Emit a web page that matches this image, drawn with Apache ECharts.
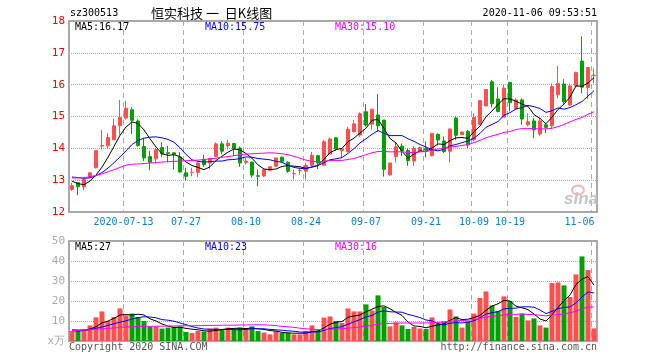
<!DOCTYPE html>
<html><head><meta charset="utf-8">
<script src="https://cdn.jsdelivr.net/npm/echarts@6.0.0/dist/echarts.min.js"></script>
<style>html,body{margin:0;padding:0;background:#fff}#c{width:660px;height:360px}</style>
</head><body><div id="c"></div>
<script>
const dates = ['2020-06-30','2020-07-01','2020-07-02','2020-07-03','2020-07-06','2020-07-07','2020-07-08','2020-07-09','2020-07-10','2020-07-13',
'2020-07-14','2020-07-15','2020-07-16','2020-07-17','2020-07-20','2020-07-21','2020-07-22','2020-07-23','2020-07-24','2020-07-27',
'2020-07-28','2020-07-29','2020-07-30','2020-07-31','2020-08-03','2020-08-04','2020-08-05','2020-08-06','2020-08-07','2020-08-10',
'2020-08-11','2020-08-12','2020-08-13','2020-08-14','2020-08-17','2020-08-18','2020-08-19','2020-08-20','2020-08-21','2020-08-24',
'2020-08-25','2020-08-26','2020-08-27','2020-08-28','2020-08-31','2020-09-01','2020-09-02','2020-09-03','2020-09-04','2020-09-07',
'2020-09-08','2020-09-09','2020-09-10','2020-09-11','2020-09-14','2020-09-15','2020-09-16','2020-09-17','2020-09-18','2020-09-21',
'2020-09-22','2020-09-23','2020-09-24','2020-09-25','2020-09-28','2020-09-29','2020-09-30','2020-10-09','2020-10-12','2020-10-13',
'2020-10-14','2020-10-15','2020-10-16','2020-10-19','2020-10-20','2020-10-21','2020-10-22','2020-10-23','2020-10-26','2020-10-27',
'2020-10-28','2020-10-29','2020-10-30','2020-11-02','2020-11-03','2020-11-04','2020-11-05','2020-11-06'];

const labelDates = ['2020-07-13','2020-07-27','2020-08-10','2020-08-24','2020-09-07','2020-09-21','2020-10-09','2020-10-19','2020-11-06'];

const openP = [12.71,12.92,12.79,13.10,13.39,14.07,14.08,14.27,14.71,14.95,
15.21,14.86,14.06,13.74,13.67,14.03,13.86,13.86,13.73,13.23,
13.24,13.25,13.65,13.54,13.75,14.14,14.08,14.15,14.01,13.56,
13.57,13.14,13.13,13.31,13.44,13.72,13.56,13.20,13.30,13.28,
13.47,13.77,13.47,13.82,14.33,13.93,13.90,14.52,14.42,15.15,
14.76,15.05,14.89,13.17,13.74,14.07,13.93,13.60,13.92,14.00,
13.77,14.44,14.23,13.91,14.95,14.43,14.53,14.27,14.76,15.33,
16.09,15.55,14.98,16.07,15.24,15.52,14.74,14.86,14.45,14.74,
14.71,15.68,16.02,15.36,15.96,16.74,15.91,16.29];

const closeP = [12.83,12.79,13.02,13.23,13.93,14.09,14.34,14.71,14.97,15.26,
14.88,14.09,13.70,13.56,13.96,13.83,13.84,13.81,13.26,13.12,
13.25,13.54,13.49,13.68,14.14,13.91,14.16,13.99,13.54,13.60,
13.16,13.12,13.33,13.42,13.70,13.59,13.28,13.21,13.31,13.47,
13.78,13.54,14.21,14.29,13.98,13.98,14.60,14.77,15.09,14.73,
15.23,14.71,13.34,13.54,14.05,13.92,13.61,14.00,14.03,13.95,
14.47,14.26,13.90,14.61,14.41,14.51,14.11,14.97,15.50,15.85,
15.40,15.16,15.89,15.44,15.52,14.92,14.84,14.58,14.86,14.66,
15.94,16.04,15.47,15.96,16.38,15.92,16.54,16.30];

const lowP = [12.66,12.53,12.68,13.08,13.37,13.96,14.01,14.27,14.43,14.90,
14.45,14.05,13.60,13.31,13.52,13.72,13.56,13.33,13.23,13.00,
13.12,13.10,13.42,13.35,13.72,13.81,13.96,13.77,13.42,13.49,
13.08,12.81,13.10,13.29,13.42,13.57,13.23,13.02,13.18,13.02,
13.44,13.35,13.44,13.82,13.92,13.69,13.87,14.50,14.36,14.68,
14.59,14.52,13.11,13.14,13.56,13.75,13.45,13.45,13.90,13.72,
13.74,14.09,13.85,13.56,14.27,14.42,14.01,14.22,14.74,15.33,
15.29,15.13,14.98,15.16,15.21,14.74,14.69,14.32,14.40,14.48,
14.60,15.57,15.40,15.36,15.94,15.73,15.55,16.04];

const highP = [12.92,12.92,13.02,13.25,13.93,14.58,14.47,14.92,15.52,15.49,
15.29,14.91,14.32,13.93,14.01,14.19,14.08,13.86,13.88,13.39,
13.39,13.56,13.80,13.70,14.19,14.22,14.27,14.17,14.06,13.70,
13.57,13.33,13.35,13.44,13.70,13.75,13.59,13.33,13.39,13.54,
13.89,13.80,14.26,14.34,14.35,14.00,14.67,14.89,15.13,15.39,
15.23,15.70,14.89,13.54,14.20,14.15,14.00,14.07,14.05,14.22,
14.47,14.47,14.37,14.61,15.00,14.53,14.58,15.10,15.52,15.86,
16.15,15.92,15.99,16.09,15.57,15.57,15.10,14.95,14.95,14.79,
16.04,16.59,16.17,16.04,16.41,17.52,16.54,16.51];

const ma5 = [12.97,12.89,12.86,12.97,13.16,13.41,13.72,14.06,14.41,14.67,
14.83,14.78,14.58,14.30,14.04,13.83,13.78,13.80,13.74,13.57,
13.46,13.40,13.33,13.42,13.62,13.75,13.88,13.98,13.95,13.84,
13.69,13.48,13.35,13.33,13.35,13.43,13.46,13.44,13.42,13.37,
13.41,13.46,13.66,13.86,13.96,14.00,14.21,14.32,14.48,14.63,
14.88,14.91,14.62,14.31,14.17,13.91,13.69,13.82,13.92,13.90,
14.01,14.14,14.12,14.24,14.33,14.34,14.31,14.52,14.70,14.99,
15.17,15.38,15.56,15.55,15.48,15.39,15.32,15.06,14.94,14.77,
14.98,15.22,15.39,15.61,15.96,15.95,16.05,16.22];

const ma10 = [13.10,13.08,13.06,13.07,13.14,13.24,13.38,13.55,13.73,13.92,
14.12,14.25,14.32,14.35,14.36,14.33,14.28,14.19,14.02,13.81,
13.64,13.59,13.57,13.58,13.60,13.60,13.64,13.65,13.68,13.73,
13.72,13.68,13.66,13.64,13.59,13.56,13.47,13.40,13.37,13.36,
13.42,13.46,13.55,13.64,13.67,13.71,13.84,13.99,14.17,14.30,
14.44,14.56,14.47,14.40,14.40,14.40,14.30,14.22,14.12,14.04,
13.96,13.92,13.97,14.08,14.12,14.18,14.23,14.32,14.47,14.66,
14.75,14.84,15.04,15.12,15.24,15.28,15.35,15.31,15.25,15.13,
15.18,15.27,15.23,15.28,15.37,15.47,15.64,15.81];

const ma30 = [13.07,13.07,13.08,13.11,13.15,13.20,13.26,13.33,13.40,13.47,
13.50,13.51,13.52,13.54,13.55,13.57,13.58,13.59,13.60,13.61,
13.62,13.63,13.65,13.67,13.69,13.72,13.74,13.77,13.80,13.82,
13.83,13.84,13.85,13.86,13.85,13.83,13.80,13.75,13.69,13.63,
13.59,13.58,13.59,13.62,13.62,13.62,13.65,13.68,13.74,13.80,
13.86,13.90,13.90,13.89,13.89,13.89,13.87,13.87,13.89,13.90,
13.94,13.98,14.00,14.04,14.06,14.09,14.12,14.18,14.25,14.33,
14.39,14.44,14.50,14.53,14.59,14.62,14.62,14.62,14.61,14.61,
14.63,14.68,14.75,14.83,14.91,14.97,15.07,15.15];

const volume = [5.0,5.0,5.7,7.8,11.8,14.8,10.0,12.0,16.3,12.8,
13.7,12.0,10.0,7.0,7.3,6.2,6.7,7.0,7.3,4.5,
4.0,5.0,4.7,6.2,6.7,6.0,6.7,5.7,6.7,6.0,
7.3,5.0,4.2,3.3,5.0,4.0,4.0,3.3,3.3,5.0,
7.8,5.3,11.7,12.3,10.0,9.0,16.3,14.8,14.8,18.3,
15.3,22.8,17.0,7.3,9.3,7.8,6.0,7.0,6.3,6.0,
11.8,8.7,9.8,15.8,12.3,6.7,9.8,13.7,21.5,24.8,
17.8,15.0,22.3,20.0,12.0,13.7,10.3,11.3,7.8,6.7,
29.0,29.3,27.8,22.0,33.3,42.3,35.5,6.3];

const vma5 = [5.2,5.0,5.2,6.0,7.1,9.0,10.0,11.3,13.0,13.2,
13.0,13.4,13.0,11.1,10.0,8.5,7.4,6.8,6.9,6.3,
5.9,5.6,5.1,4.9,5.3,5.7,6.1,6.3,6.4,6.2,
6.5,6.1,5.8,5.2,5.0,4.3,4.1,3.9,3.9,3.9,
4.7,4.9,6.6,8.4,9.4,9.7,11.9,12.5,13.0,14.6,
15.9,17.2,17.6,16.1,14.3,12.8,9.5,7.5,7.3,6.6,
7.4,8.0,8.5,10.4,11.7,10.7,10.9,11.7,12.8,15.3,
17.5,18.6,20.3,20.0,17.4,16.6,15.7,13.5,11.0,10.0,
13.0,16.8,20.1,23.0,28.3,30.9,32.2,27.9];

const vma10 = [5.6,5.5,5.5,5.8,6.3,7.0,7.8,8.6,9.4,10.1,
11.0,11.7,12.1,12.0,11.6,10.7,10.4,9.9,9.0,8.2,
7.2,6.5,6.0,5.9,5.8,5.8,5.8,5.7,5.6,5.8,
6.1,6.1,6.1,5.8,5.6,5.4,5.1,4.9,4.5,4.4,
4.5,4.5,5.3,6.2,6.7,7.2,8.4,9.6,10.7,12.0,
12.8,14.5,15.1,14.6,14.5,14.4,13.3,12.6,11.7,10.5,
10.1,8.7,8.0,8.9,9.2,9.0,9.4,10.1,11.6,13.5,
14.1,14.7,16.0,16.4,16.4,17.1,17.1,16.9,15.5,13.7,
14.8,16.2,16.8,17.0,19.1,22.0,24.5,24.0];

const vma30 = [5.3,5.3,5.4,5.6,5.9,6.1,6.3,6.5,6.8,7.0,
7.1,7.2,7.3,7.3,7.4,7.4,7.5,7.5,7.6,7.6,
7.6,7.7,7.7,7.8,7.8,7.9,7.9,7.9,8.0,8.0,
8.1,8.1,8.1,7.9,7.7,7.3,7.1,6.8,6.4,6.1,
5.9,5.7,5.8,5.9,6.0,6.1,6.4,6.7,7.0,7.4,
7.8,8.4,8.8,8.8,8.9,9.0,9.0,9.0,9.0,9.0,
9.1,9.3,9.4,9.9,10.1,10.2,10.4,10.7,11.3,12.0,
12.3,12.7,13.0,13.3,13.3,13.5,13.3,13.2,12.9,12.6,
13.0,13.2,13.6,14.1,14.9,16.0,17.0,17.0];

const priceTicks = [12, 18, 1];
const volTicks = [0, 50, 10];

const RED = '#ff5050', GREEN = '#00a000';
const MONO = '"DejaVu Sans Mono", monospace';
const labelIdx = labelDates.map(d => dates.indexOf(d));
const isLabel = (i) => labelIdx.indexOf(i) >= 0;

const candleData = dates.map((d, i) => [openP[i], closeP[i], lowP[i], highP[i]]);
const volData = volume.map((v, i) => ({ value: v, itemStyle: { color: closeP[i] >= openP[i] ? RED : GREEN } }));

const chart = echarts.init(document.getElementById('c'), null, { renderer: 'canvas' });

function xAx(gi, showLabel) {
  return {
    type: 'category', gridIndex: gi, data: dates, boundaryGap: true,
    axisLine: { show: false }, axisTick: { show: false },
    axisLabel: {
      show: showLabel, interval: (i) => isLabel(i), color: '#0a80d4', fontFamily: MONO, fontSize: 10, margin: 5,
      formatter: (v, i) => {
        if (i === labelIdx[0]) return '{first|' + v + '}';
        if (i === labelIdx[labelIdx.length - 1]) return '{last|' + v.slice(5) + '}';
        return v.slice(5);
      },
      rich: {
        first: { color: '#0a80d4', fontFamily: MONO, fontSize: 10, padding: [0, 5, 0, 0] },
        last: { color: '#0a80d4', fontFamily: MONO, fontSize: 10, padding: [0, 29, 0, 0] }
      }
    },
    splitLine: { show: true, interval: (i) => isLabel(i), lineStyle: { color: '#aaaaaa', type: [5, 4], width: 1 } }
  };
}

const txt = (x, y, text, fill, extra) => ({
  type: 'text', x: x, y: y, silent: true, z: 100,
  style: Object.assign({ text: text, fill: fill, font: '10px ' + MONO, verticalAlign: 'middle' }, extra || {})
});

const option = {
  animation: false,
  backgroundColor: '#fff',
  grid: [
    { left: 69, top: 21, width: 528, height: 191, show: true, borderColor: '#a8a8a8', borderWidth: 2 },
    { left: 69, top: 241, width: 528, height: 100, show: true, borderColor: '#a8a8a8', borderWidth: 2 }
  ],
  xAxis: [xAx(0, true), xAx(1, false)],
  yAxis: [
    { type: 'value', gridIndex: 0, min: priceTicks[0], max: priceTicks[1], interval: priceTicks[2],
      axisLine: { show: false }, axisTick: { show: false },
      axisLabel: { color: '#ff0000', fontFamily: MONO, fontSize: 11, margin: 4 },
      splitLine: { show: true, lineStyle: { color: '#aaaaaa', type: 'dotted', width: 1 } } },
    { type: 'value', gridIndex: 1, min: volTicks[0], max: volTicks[1], interval: volTicks[2],
      axisLine: { show: false }, axisTick: { show: false },
      axisLabel: { color: '#aaaaaa', fontFamily: MONO, fontSize: 11, margin: 4, formatter: (v) => v === 0 ? 'x万' : String(v) },
      splitLine: { show: true, lineStyle: { color: '#aaaaaa', type: 'dotted', width: 1 } } }
  ],
  series: [
    { type: 'candlestick', xAxisIndex: 0, yAxisIndex: 0, data: candleData, barWidth: 4, silent: true,
      itemStyle: { color: RED, color0: GREEN, borderColor: RED, borderColor0: GREEN, borderWidth: 1 } },
    { type: 'line', xAxisIndex: 0, yAxisIndex: 0, data: ma5, symbol: 'none', silent: true, z: 5, lineStyle: { color: '#000', width: 1 } },
    { type: 'line', xAxisIndex: 0, yAxisIndex: 0, data: ma10, symbol: 'none', silent: true, z: 5, lineStyle: { color: '#0000ff', width: 1 } },
    { type: 'line', xAxisIndex: 0, yAxisIndex: 0, data: ma30, symbol: 'none', silent: true, z: 5, lineStyle: { color: '#ff00ff', width: 1 } },
    { type: 'bar', xAxisIndex: 1, yAxisIndex: 1, data: volData, barWidth: 5, silent: true },
    { type: 'line', xAxisIndex: 1, yAxisIndex: 1, data: vma5, symbol: 'none', silent: true, z: 5, lineStyle: { color: '#000', width: 1 } },
    { type: 'line', xAxisIndex: 1, yAxisIndex: 1, data: vma10, symbol: 'none', silent: true, z: 5, lineStyle: { color: '#0000ff', width: 1 } },
    { type: 'line', xAxisIndex: 1, yAxisIndex: 1, data: vma30, symbol: 'none', silent: true, z: 5, lineStyle: { color: '#ff00ff', width: 1 } }
  ],
  graphic: [
    txt(70, 13, 'sz300513', '#000'),
    txt(151, 13, '恒实科技 一  日K线图', '#000', { font: '13px "Noto Sans CJK SC"' }),
    txt(597, 13, '2020-11-06 09:53:51', '#000', { align: 'right' }),
    txt(75, 27, 'MA5:16.17', '#000'),
    txt(205, 27, 'MA10:15.75', '#0000ff'),
    txt(335, 27, 'MA30:15.10', '#ff00ff'),
    txt(75, 247, 'MA5:27', '#000'),
    txt(205, 247, 'MA10:23', '#0000ff'),
    txt(335, 247, 'MA30:16', '#ff00ff'),
    txt(69, 347, 'Copyright 2020 SINA.COM', '#555'),
    txt(597, 347, 'http://finance.sina.com.cn', '#555', { align: 'right' }),
    { type: 'ellipse', silent: true, z: 1, shape: { cx: 578, cy: 190, rx: 6, ry: 4.5 }, style: { fill: 'none', stroke: '#f2b4b4', lineWidth: 2 } },
    txt(581, 199, 'sina', '#c4c4c4', { align: 'center', font: 'italic bold 17px "Liberation Sans"' })
  ]
};
chart.setOption(option);
</script>
</body></html>
